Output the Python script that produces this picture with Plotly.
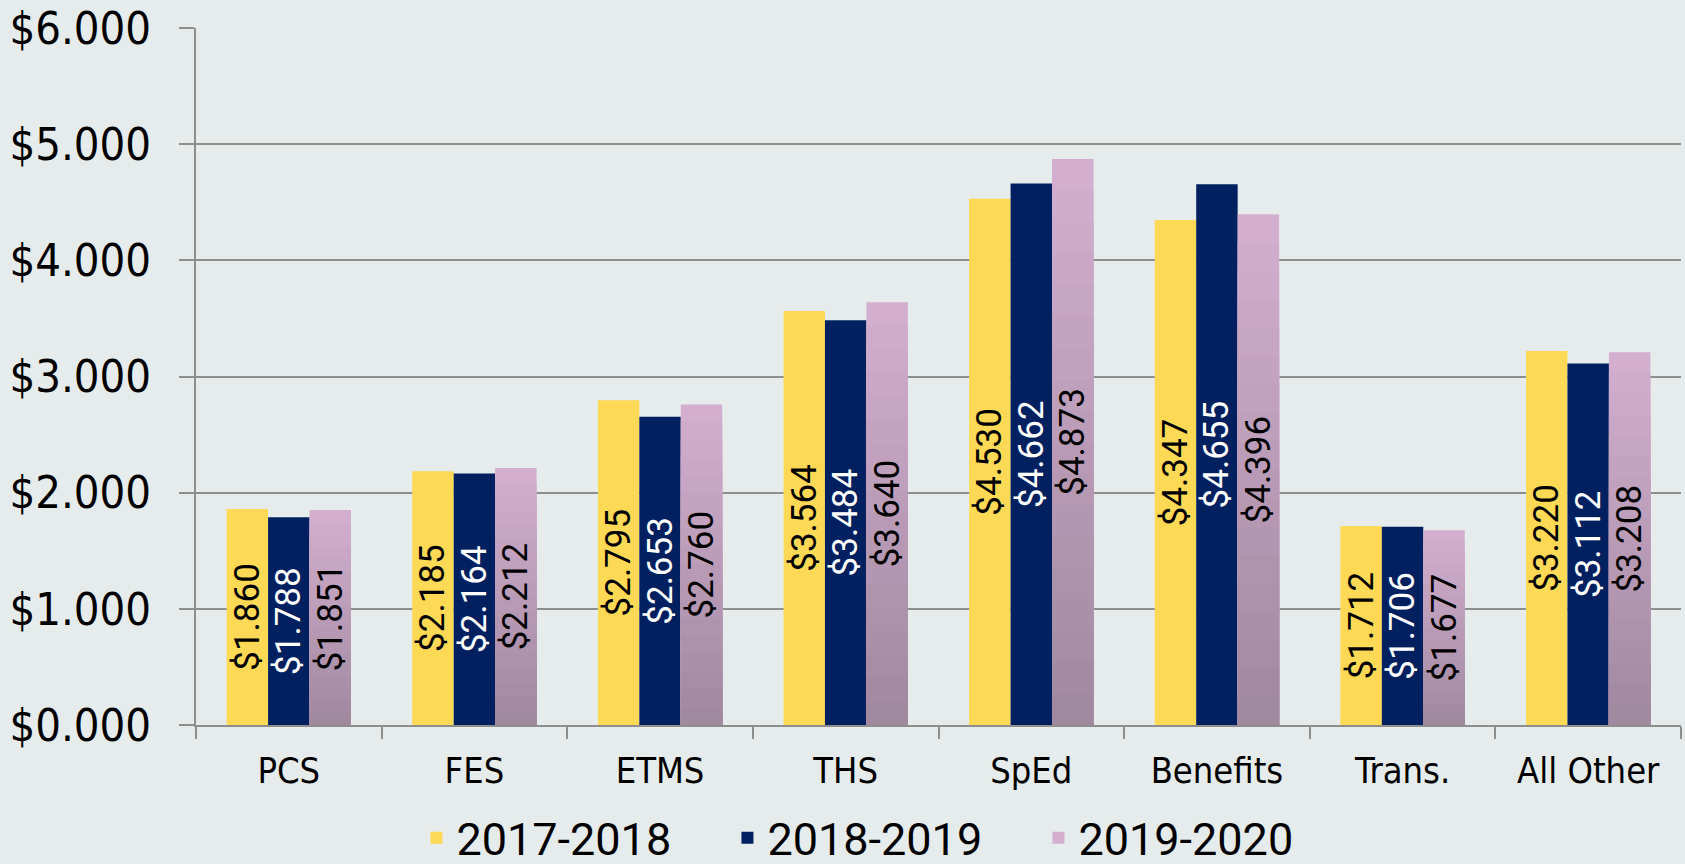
import plotly.graph_objects as go

categories = ["PCS", "FES", "ETMS", "THS", "SpEd", "Benefits", "Trans.", "All Other"]
series_names = ["2017-2018", "2018-2019", "2019-2020"]
v2017 = [1.860, 2.185, 2.795, 3.564, 4.530, 4.347, 1.712, 3.220]
v2018 = [1.788, 2.164, 2.653, 3.484, 4.662, 4.655, 1.706, 3.112]
v2019 = [1.851, 2.212, 2.760, 3.640, 4.873, 4.396, 1.677, 3.208]

YELLOW = "#FDD955"
NAVY = "#012060"
PINK_TOP = (212, 175, 208)
PINK_BOTTOM = (160, 136, 159)
BG = "#E6ECEC"
GRID = "#8E8E8E"
AXIS_FONT = "DejaVu Sans Condensed, Liberation Sans Narrow, Liberation Sans"

def fmt(v):
    return "$%.3f" % v

fig = go.Figure()

common = dict(textposition="inside", insidetextanchor="middle", textangle=-90,
              cliponaxis=False)

fig.add_trace(go.Bar(x=categories, y=v2017, name=series_names[0], offsetgroup="1",
                     marker=dict(color=YELLOW, line=dict(width=0)),
                     text=[fmt(v) for v in v2017],
                     textfont=dict(family="Roboto", size=35, color="black"), **common))
fig.add_trace(go.Bar(x=categories, y=v2018, name=series_names[1], offsetgroup="2",
                     marker=dict(color=NAVY, line=dict(width=0)),
                     text=[fmt(v) for v in v2018],
                     textfont=dict(family="Roboto", size=35, color="white"), **common))

# gradient for the third series: overlaid layers in the same slot
N = 18
for k in range(N, 0, -1):
    f = k / N
    t = (k - 0.5) / N
    c = tuple(round(PINK_BOTTOM[i] + (PINK_TOP[i] - PINK_BOTTOM[i]) * t) for i in range(3))
    fig.add_trace(go.Bar(x=categories, y=[v * f for v in v2019], name=series_names[2],
                         offsetgroup="3", showlegend=(k == N), legendgroup="s3",
                         marker=dict(color="rgb(%d,%d,%d)" % c, line=dict(width=0)),
                         hoverinfo="skip"))
fig.add_trace(go.Bar(x=categories, y=v2019, name=series_names[2], offsetgroup="3",
                     showlegend=False, legendgroup="s3",
                     marker=dict(color="rgba(0,0,0,0)", line=dict(width=0)),
                     text=[fmt(v) for v in v2019],
                     textfont=dict(family="Roboto", size=35, color="black"), **common))

fig.update_layout(
    width=1685, height=864,
    barmode="group", bargap=0.33, bargroupgap=0,
    paper_bgcolor=BG, plot_bgcolor=BG,
    margin=dict(l=196, r=4, t=28, b=139),
    uniformtext=dict(minsize=35, mode="show"),
    showlegend=True,
    legend=dict(orientation="h", xref="container", yref="container",
                x=0.524, xanchor="center", y=0.030, yanchor="middle",
                font=dict(family="Roboto", size=45, color="black"),
                bgcolor="rgba(0,0,0,0)", traceorder="normal",
                entrywidth=266, entrywidthmode="pixels"),
    xaxis=dict(showgrid=False, showline=True, linecolor=GRID, linewidth=2,
               ticks="outside", ticklen=12, tickcolor=GRID, tickwidth=2,
               tickson="boundaries", automargin=False, ticklabelstandoff=13,
               tickfont=dict(family=AXIS_FONT, size=36, color="black")),
    yaxis=dict(range=[0, 6], dtick=1, tickprefix="$", tickformat=".3f",
               showgrid=True, gridcolor=GRID, gridwidth=2,
               showline=True, linecolor=GRID, linewidth=2,
               ticks="outside", ticklen=15, tickcolor=GRID, tickwidth=2,
               zeroline=False, automargin=False, ticklabelstandoff=19,
               tickfont=dict(family=AXIS_FONT, size=45, color="black")),
)

fig.write_html("out.html", config={"displayModeBar": False},
               post_script="document.body.style.margin='0';document.body.style.background='%s';" % BG)
